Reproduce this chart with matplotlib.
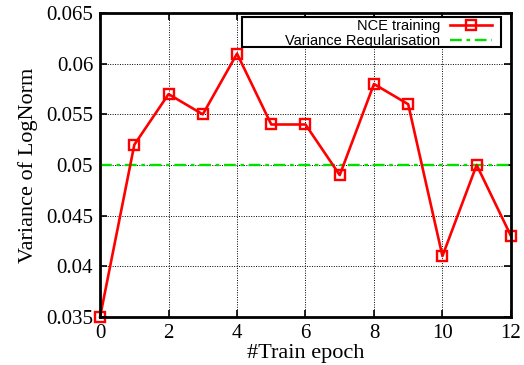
import matplotlib
matplotlib.use("Agg")
import matplotlib.pyplot as plt
from matplotlib.patches import Rectangle

epochs = [0, 1, 2, 3, 4, 5, 6, 7, 8, 9, 10, 11, 12]
nce_variance = [0.035, 0.052, 0.057, 0.055, 0.061, 0.054, 0.054, 0.049, 0.058, 0.056, 0.041, 0.050, 0.043]
reg_variance = 0.05
x_ticks = [0, 2, 4, 6, 8, 10, 12]
y_ticks = [0.035, 0.04, 0.045, 0.05, 0.055, 0.06, 0.065]
y_labels = ["0.035", "0.04", "0.045", "0.05", "0.055", "0.06", "0.065"]

serif = ["Liberation Serif", "DejaVu Serif"]
sans = ["Liberation Sans", "DejaVu Sans"]

fig = plt.figure(figsize=(5.24, 3.65), dpi=100)
ax = fig.add_axes([0.191, 0.132, 0.784, 0.832])

ax.plot(epochs, nce_variance, color="red", linewidth=1.9, marker="s", markersize=6.5,
        markerfacecolor="none", markeredgecolor="red", markeredgewidth=1.7,
        label="NCE training", zorder=4, clip_on=False)
ax.axhline(reg_variance, color="#00e000", linewidth=1.7, linestyle=(0, (5, 2, 1.5, 2)),
           label="Variance Regularisation", zorder=3)

ax.set_xlim(0, 12)
ax.set_ylim(0.035, 0.065)
ax.set_xticks(x_ticks)
ax.set_yticks(y_ticks)
ax.set_yticklabels(y_labels)
ax.grid(True, color="black", linestyle=(0, (1, 1.5)), linewidth=0.7)

ax.tick_params(direction="in", top=True, right=True, length=5, width=1.2,
               labelsize=15, pad=5)
for lab in ax.get_xticklabels() + ax.get_yticklabels():
    lab.set_family(serif)
for s in ax.spines.values():
    s.set_linewidth(2)
    s.set_zorder(5)

ax.set_xlabel("#Train epoch", fontsize=16, family=serif, labelpad=1)
ax.set_ylabel("Variance of LogNorm", fontsize=16, family=serif, labelpad=6)

# legend box drawn by hand so it can be wider than its contents
ax.add_patch(Rectangle((0.345, 0.888), 0.632, 0.099, transform=ax.transAxes,
                       facecolor="white", edgecolor="black", linewidth=1.5, zorder=6))
leg = ax.legend(loc="upper right", prop={"family": sans, "size": 10.5},
                markerfirst=False, frameon=False,
                borderpad=0, handlelength=2.9, handletextpad=0.7,
                labelspacing=0.1, bbox_to_anchor=(0.955, 0.982), borderaxespad=0)
leg.set_zorder(7)
for t in leg.get_texts():
    t.set_ha("right")

fig.savefig("out.png", dpi=100)
